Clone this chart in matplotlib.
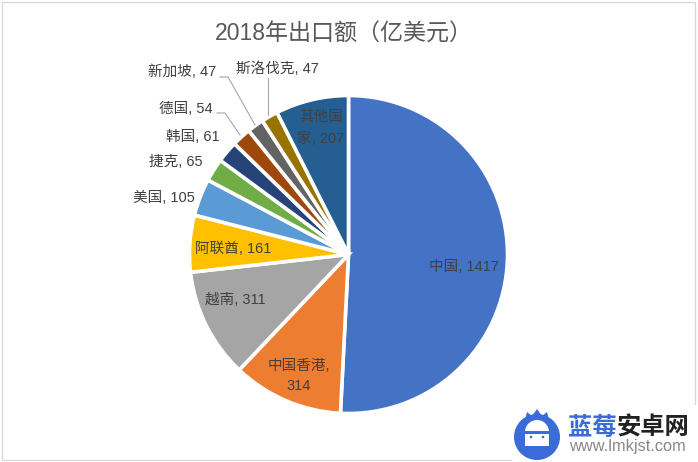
import matplotlib
matplotlib.use("Agg")
import numpy as np
import matplotlib.pyplot as plt
from matplotlib.patches import Circle, Rectangle, Polygon

plt.rcParams['font.family'] = ['Liberation Sans', 'Noto Sans CJK SC', 'DejaVu Sans']

# datos del grafico
countries = ["中国", "中国香港", "越南", "阿联酋", "美国", "捷克", "韩国", "德国", "新加坡", "斯洛伐克", "其他国家"]
values = [1417, 314, 311, 161, 105, 65, 61, 54, 47, 47, 207]
colors = ["#4472C4", "#ED7D31", "#A5A5A5", "#FFC000", "#5B9BD5", "#70AD47",
          "#264478", "#9E480E", "#636363", "#997300", "#255E91"]
title = "2018年出口额（亿美元）"

# posicion de las etiquetas en pixeles
label_text = ["中国, 1417", "中国香港,\n314", "越南, 311", "阿联酋, 161", "美国, 105", "捷克, 65",
              "韩国, 61", "德国, 54", "新加坡, 47", "斯洛伐克, 47", "其他国\n家, 207"]
label_pos = [(464, 267), (299, 376), (235, 300), (233, 249), (164, 198), (176, 162),
             (193, 137), (186, 109), (182, 72), (277, 69), (321, 128)]

W, H = 698, 462
fig = plt.figure(figsize=(W / 100, H / 100), dpi=100)
ax = fig.add_axes([0, 0, 1, 1])
ax.set_xlim(0, W)
ax.set_ylim(H, 0)
ax.axis("off")

# borde del grafico
ax.add_patch(Rectangle((1.5, 1.5), 693, 458, fill=False, ec="#D9D9D9", lw=1))

# la pie se dibuja en un eje propio para que no quede invertida
cx, cy, r = 348.5, 254.5, 159
pie_ax = fig.add_axes([(cx - r) / W, 1 - (cy + r) / H, 2 * r / W, 2 * r / H])
pie_ax.pie(values, colors=colors, startangle=90, counterclock=False, radius=1,
           wedgeprops=dict(edgecolor="white", linewidth=2.6))
pie_ax.set_xlim(-1, 1)
pie_ax.set_ylim(-1, 1)

# lineas guia
ax.plot([217, 225, 240], [113, 113, 135], color="#A6A6A6", lw=0.8)
ax.plot([220, 228, 255], [77, 77, 125], color="#A6A6A6", lw=0.8)
ax.plot([268, 268], [78, 115], color="#A6A6A6", lw=0.8)

ax.set_zorder(2)
for txt, (x, y) in zip(label_text, label_pos):
    ax.text(x, y, txt, ha="center", va="center", fontsize=10.5, color="#404040", linespacing=1.6)

ax.text(344, 34, title, ha="center", va="center", fontsize=16.6, color="#595959")

# marca de agua
ax.add_patch(Rectangle((512, 405), 186, 57, fc="white", ec="none"))
ax.add_patch(Circle((537, 437), 23, fc="#3A6BD8", ec="none"))
ax.add_patch(Polygon([(525, 420), (527, 412), (532, 416), (537, 409), (542, 416), (547, 412), (549, 420)],
                     fc="#3A6BD8", ec="none"))
ax.add_patch(Rectangle((525, 432), 24, 14, fc="white", ec="none"))
ax.add_patch(Circle((537, 432), 12, fc="white", ec="none"))
ax.add_patch(Rectangle((524, 431), 26, 3, fc="#3A6BD8", ec="none"))
ax.add_patch(Circle((531, 437), 1.3, fc="#3A6BD8", ec="none"))
ax.add_patch(Circle((543, 437), 1.3, fc="#3A6BD8", ec="none"))
ax.text(568, 428, "蓝莓", ha="left", va="center", fontsize=17.5, color="#3A6BD8", fontweight="bold")
ax.text(617, 428, "安卓网", ha="left", va="center", fontsize=17.5, color="#222222", fontweight="bold")
ax.text(569, 447, "www.lmkjst.com", ha="left", va="center", fontsize=11.8, color="#888888")

fig.savefig("out.png", dpi=100)
